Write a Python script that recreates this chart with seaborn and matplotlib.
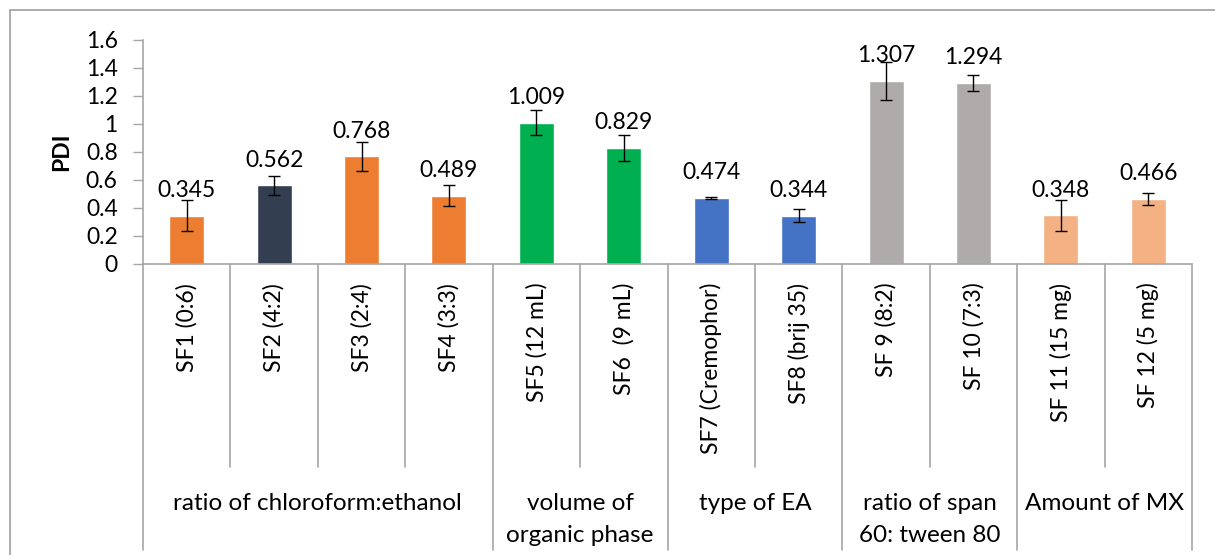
import matplotlib
matplotlib.use("Agg")
import matplotlib.pyplot as plt
import matplotlib.transforms as mtransforms
from matplotlib.lines import Line2D
import seaborn as sns

# Formulations, measured PDI and standard deviations
labels = ["SF1 (0:6)", "SF2 (4:2)", "SF3 (2:4)", "SF4 (3:3)",
          "SF5 (12 mL)", "SF6  (9 mL)", "SF7 (Cremophor)", "SF8 (brij 35)",
          "SF 9 (8:2)", "SF 10 (7:3)", "SF 11 (15 mg)", "SF 12 (5 mg)"]
pdi = [0.345, 0.562, 0.768, 0.489, 1.009, 0.829, 0.474, 0.344,
       1.307, 1.294, 0.348, 0.466]
pdi_sd = [0.11, 0.067, 0.106, 0.075, 0.09, 0.09, 0.008, 0.046,
          0.135, 0.057, 0.11, 0.044]

# Variable studied and number of formulations in each group
groups = ["ratio of chloroform:ethanol", "volume of\norganic phase",
          "type of EA", "ratio of span\n60: tween 80", "Amount of MX"]
group_sizes = [4, 2, 2, 2, 2]

bar_colors = ["#ED7D31", "#333F50", "#ED7D31", "#ED7D31",
              "#00B050", "#00B050", "#4472C4", "#4472C4",
              "#AFABAB", "#AFABAB", "#F4B183", "#F4B183"]

sns.set_theme(style="white")
plt.rcParams["font.family"] = ["Lato", "DejaVu Sans"]

GRID = "#A6A6A6"
FS = 16.5
FS_GROUP = 17.5

fig = plt.figure(figsize=(12.15, 5.55), dpi=100)
ax = fig.add_axes([143 / 1215, 1 - 264 / 555, 1049 / 1215, 224 / 555])

sns.barplot(x=labels, y=pdi, hue=labels, palette=bar_colors, width=0.4,
            legend=False, saturation=1, ax=ax)
ax.errorbar(range(len(labels)), pdi, yerr=pdi_sd, fmt="none",
            ecolor="black", elinewidth=1.0, capsize=4, capthick=1.0, zorder=3)

for i, v in enumerate(pdi):
    ax.annotate(f"{v:.3f}", (i, v), xytext=(0, 13.5), textcoords="offset points",
                ha="center", va="baseline", fontsize=FS, color="black")

ax.set_xlim(-0.5, len(labels) - 0.5)
ax.set_ylim(0, 1.6)
ax.set_yticks([0, 0.2, 0.4, 0.6, 0.8, 1, 1.2, 1.4, 1.6])
ax.set_yticklabels(["0", "0.2", "0.4", "0.6", "0.8", "1", "1.2", "1.4", "1.6"])
ax.set_xticks(range(len(labels)))
ax.set_xticklabels(labels, rotation=90, va="top", ha="center")
ax.tick_params(axis="x", length=0, pad=13.5, labelsize=FS, colors="black")
ax.tick_params(axis="y", direction="out", length=7.2, width=1, color=GRID,
               pad=11, labelsize=FS, labelcolor="black", left=True)

for side in ["top", "right"]:
    ax.spines[side].set_visible(False)
for side in ["left", "bottom"]:
    ax.spines[side].set_color(GRID)
    ax.spines[side].set_linewidth(1.2)

ax.set_xlabel("")
ax.set_ylabel("PDI", fontsize=FS, fontweight="bold", color="black")
ax.yaxis.set_label_coords(-0.068, 0.5)

# Category and group divider lines beneath the axis
trans = mtransforms.blended_transform_factory(ax.transData, ax.transAxes)
group_edges = [-0.5]
for n in group_sizes:
    group_edges.append(group_edges[-1] + n)
for k in range(len(labels) + 1):
    xb = k - 0.5
    bottom = -1.277 if xb in group_edges else -0.906
    ax.add_line(Line2D([xb, xb], [0, bottom], transform=trans, color=GRID,
                       lw=1.2, clip_on=False))

# Group titles, one line of text at a time
for g, name in enumerate(groups):
    center = (group_edges[g] + group_edges[g + 1]) / 2
    for j, line in enumerate(name.split("\n")):
        ax.text(center, -1.098 - 0.143 * j, line, transform=trans,
                ha="center", va="baseline", fontsize=FS_GROUP, color="black")

# Chart area border
fig.add_artist(Line2D([10 / 1215, 10 / 1215], [0, 1 - 10 / 555],
                      transform=fig.transFigure, color=GRID, lw=1.3))
fig.add_artist(Line2D([10 / 1215, 1], [1 - 10 / 555, 1 - 10 / 555],
                      transform=fig.transFigure, color=GRID, lw=1.3))

fig.savefig("out.png", dpi=100)
